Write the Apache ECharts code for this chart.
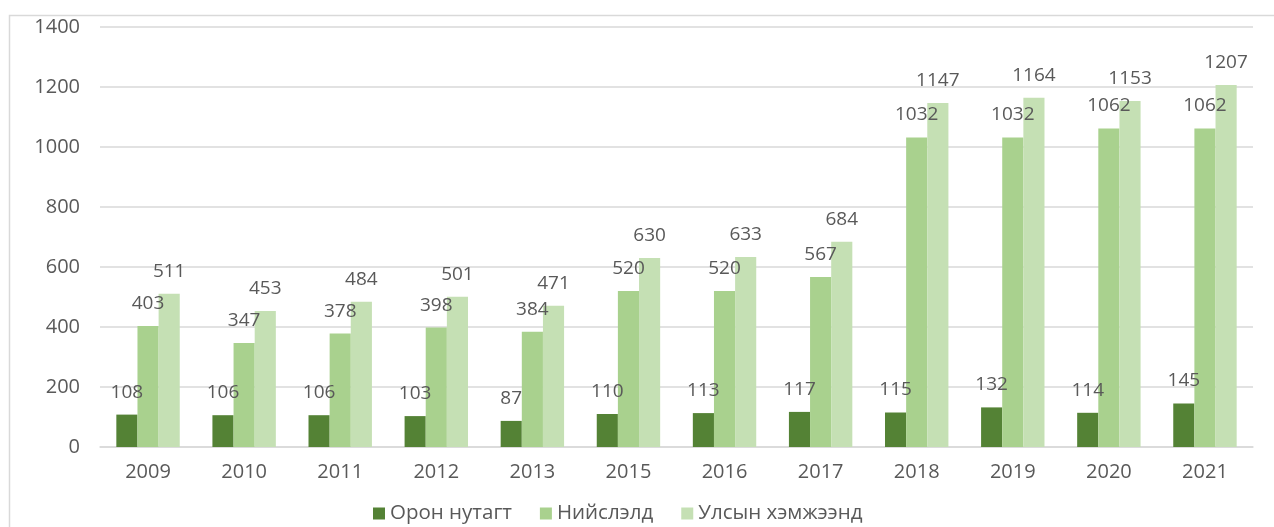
<!DOCTYPE html>
<html>
<head>
<meta charset="utf-8">
<script src="https://cdn.jsdelivr.net/npm/echarts@6/dist/echarts.min.js"></script>
<style>
  html, body { margin: 0; padding: 0; background: #ffffff; }
  #chart { width: 1274px; height: 527px; }
</style>
</head>
<body>
<div id="chart"></div>
<script>
// Years shown on the category axis
const years = ['2009', '2010', '2011', '2012', '2013', '2015', '2016', '2017', '2018', '2019', '2020', '2021'];
// Series names
const seriesNames = ['Орон нутагт', 'Нийслэлд', 'Улсын хэмжээнд'];
// Values per series
const ruralValues = [108, 106, 106, 103, 87, 110, 113, 117, 115, 132, 114, 145];
const capitalValues = [403, 347, 378, 398, 384, 520, 520, 567, 1032, 1032, 1062, 1062];
const nationalValues = [511, 453, 484, 501, 471, 630, 633, 684, 1147, 1164, 1153, 1207];
// Value axis ticks
const yTicks = [0, 200, 400, 600, 800, 1000, 1200, 1400];

const colors = ['#548235', '#A9D18E', '#C5E0B4'];
const font = '"Open Sans", "Noto Sans", sans-serif';
const textColor = '#595959';

function makeSeries(name, data, color) {
  return {
    name: name,
    type: 'bar',
    data: data,
    barGap: '0%',
    barCategoryGap: '34%',
    itemStyle: { color: color },
    label: {
      show: true,
      position: 'top',
      distance: 13,
      color: textColor,
      fontFamily: font,
      fontSize: 19
    }
  };
}

const chart = echarts.init(document.getElementById('chart'), null, { renderer: 'canvas' });
chart.setOption({
  animation: false,
  backgroundColor: '#ffffff',
  graphic: [{
    type: 'rect',
    left: 7,
    top: 13,
    shape: { width: 1300, height: 560 },
    style: { fill: 'none', stroke: '#d9d9d9', lineWidth: 1.5 },
    silent: true,
    z: -1
  }],
  grid: { left: 100, right: 21, top: 27, bottom: 80, containLabel: false },
  legend: {
    bottom: -2,
    left: 368,
    itemWidth: 12,
    itemHeight: 12,
    itemGap: 28,
    icon: 'rect',
    textStyle: { color: textColor, fontFamily: font, fontSize: 20.5 },
    data: seriesNames
  },
  xAxis: {
    type: 'category',
    data: years,
    axisLine: { lineStyle: { color: '#d9d9d9', width: 1.5 } },
    axisTick: { show: false },
    axisLabel: { color: textColor, fontFamily: font, fontSize: 20, margin: 15 }
  },
  yAxis: {
    type: 'value',
    min: yTicks[0],
    max: yTicks[yTicks.length - 1],
    interval: yTicks[1] - yTicks[0],
    axisLine: { show: false },
    axisTick: { show: false },
    splitLine: { lineStyle: { color: '#d9d9d9', width: 1.5 } },
    axisLabel: {
      color: textColor,
      fontFamily: font,
      fontSize: 20,
      margin: 20,
      formatter: function (v) { return String(v); }
    }
  },
  series: [
    makeSeries(seriesNames[0], ruralValues, colors[0]),
    makeSeries(seriesNames[1], capitalValues, colors[1]),
    makeSeries(seriesNames[2], nationalValues, colors[2])
  ]
});
</script>
</body>
</html>
